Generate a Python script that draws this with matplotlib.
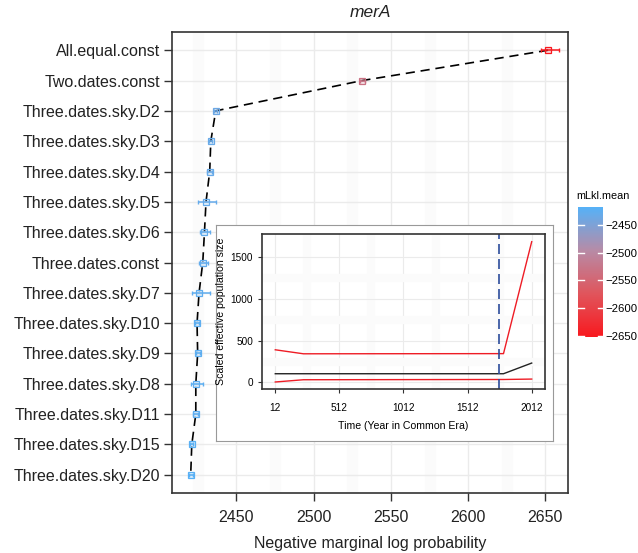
import numpy as np
import matplotlib
matplotlib.use("Agg")
import matplotlib.pyplot as plt
from matplotlib.colors import LinearSegmentedColormap, Normalize
from matplotlib.cm import ScalarMappable

plt.rcParams['font.family'] = ['Liberation Sans', 'DejaVu Sans']

# main panel data
models = ['All.equal.const', 'Two.dates.const', 'Three.dates.sky.D2',
          'Three.dates.sky.D3', 'Three.dates.sky.D4', 'Three.dates.sky.D5',
          'Three.dates.sky.D6', 'Three.dates.const', 'Three.dates.sky.D7',
          'Three.dates.sky.D10', 'Three.dates.sky.D9', 'Three.dates.sky.D8',
          'Three.dates.sky.D11', 'Three.dates.sky.D15', 'Three.dates.sky.D20']
neg_mlkl = [2651.7, 2531.5, 2436.7, 2433.5, 2432.8, 2430.4, 2429.4, 2428.3,
            2425.9, 2424.6, 2425.0, 2423.8, 2423.8, 2421.2, 2420.5]
err_low = [4.5, 1.5, 1.0, 1.0, 1.5, 5.4, 2.9, 2.4, 4.3, 1.0, 1.0, 3.1, 1.5, 1.0, 1.0]
err_high = [6.9, 1.5, 1.0, 1.0, 1.5, 6.5, 3.6, 3.2, 7.1, 1.0, 1.5, 4.7, 1.5, 1.0, 1.5]

# inset skyline data
years = [12, 232, 1792, 2012]
ne_median = [104, 104, 104, 232]
ne_upper = [391, 343, 345, 1687]
ne_lower = [5, 32, 35, 40]
split_year = 1760

cmap = LinearSegmentedColormap.from_list(
    'mlkl', ['#f8191f', '#e0555c', '#b78ba6', '#56b1f7'])
norm = Normalize(vmin=-2652, vmax=-2418)

fig = plt.figure(figsize=(6.38, 5.53), dpi=100)
W, H = 638, 553


def box(l, t, r, b):
    return [l / W, 1 - b / H, (r - l) / W, (b - t) / H]


ax = fig.add_axes(box(172, 32, 568, 493))
ypos = np.arange(len(models))
cols = [cmap(norm(-v)) for v in neg_mlkl]

ax.plot(neg_mlkl, ypos, color='black', ls=(0, (5.5, 3.5)), lw=1.2, zorder=3)
for i in range(len(models)):
    ax.errorbar(neg_mlkl[i], ypos[i], xerr=[[err_low[i]], [err_high[i]]],
                fmt='none', ecolor=cols[i], elinewidth=1.1, capsize=1.5, zorder=4)
    ax.plot(neg_mlkl[i], ypos[i], marker='s', ms=4.5, mfc=(*cols[i][:3], 0.2),
            mec=cols[i], mew=0.9, zorder=5)

ax.set_xlim(2408.4, 2664.6)
ax.set_ylim(len(models) - 0.4, -0.6)
ax.set_yticks(ypos)
ax.set_yticklabels(models, fontsize=11.5, color='#222222')
ax.tick_params(length=5.5, width=1, color='#333333')
ax.tick_params(axis='y', pad=3)
ax.set_xticks([2450, 2500, 2550, 2600, 2650])
ax.tick_params(axis='x', labelsize=11.5, pad=7, labelcolor='#222222')
ax.set_xticks([2425, 2475, 2525, 2575, 2625], minor=True)
ax.tick_params(which='minor', length=0)
ax.grid(True, which='major', color='#ebebeb', lw=1)
ax.grid(True, which='minor', axis='x', color='#fbfbfb', lw=8)
ax.set_axisbelow(True)
for s in ax.spines.values():
    s.set_color('#333333')
    s.set_linewidth(1.2)
ax.set_xlabel('Negative marginal log probability', fontsize=11.5, labelpad=8,
              color='#222222')
ax.set_title('merA', fontsize=12.5, style='italic', pad=11, color='#222222')

# colorbar
cax = fig.add_axes(box(578, 207, 603, 337))
cb = fig.colorbar(ScalarMappable(norm=norm, cmap=cmap), cax=cax)
cb.set_ticks([-2450, -2500, -2550, -2600, -2650])
cb.outline.set_visible(False)
cax.tick_params(labelsize=8.2, length=0, pad=1.5)
for t in [-2450, -2500, -2550, -2600, -2650]:
    cax.plot([0, 0.22], [t, t], color='white', lw=1)
    cax.plot([0.78, 1], [t, t], color='white', lw=1)
cax.set_xlim(0, 1)
fig.text(576 / W, 1 - 196 / H, 'mLkl.mean', fontsize=7.8, va='center')

# inset frame
fr = fig.add_axes(box(216, 225, 553, 441))
fr.set_facecolor('white')
fr.set_xticks([])
fr.set_yticks([])
for s in fr.spines.values():
    s.set_color('#999999')
    s.set_linewidth(0.8)

ins = fig.add_axes(box(262, 234, 545, 389))
ins.plot(years, ne_upper, color='#ee1c25', lw=1)
ins.plot(years, ne_lower, color='#ee1c25', lw=1)
ins.plot(years, ne_median, color='#222222', lw=1)
ins.axvline(split_year, color='#2c4c9c', lw=1.2, ls=(0, (6, 3)))
ins.set_xlim(-91.6, 2115.7)
ins.set_ylim(-79, 1779)
ins.set_xticks([12, 512, 1012, 1512, 2012])
ins.set_yticks([0, 500, 1000, 1500])
ins.set_xticks([262, 762, 1262, 1762], minor=True)
ins.set_yticks([250, 750, 1250], minor=True)
ins.tick_params(which='minor', length=0)
ins.tick_params(labelsize=7.2, length=3, color='#333333')
ins.tick_params(axis='x', pad=7)
ins.grid(True, which='major', color='#ebebeb', lw=0.8)
ins.grid(True, which='minor', color='#fbfbfb', lw=6)
ins.set_axisbelow(True)
for s in ins.spines.values():
    s.set_color('#333333')
    s.set_linewidth(1.2)
ins.set_xlabel('Time (Year in Common Era)', fontsize=7.6, labelpad=6)
ins.set_ylabel('Scaled effective population size', fontsize=7.6, labelpad=3)

fig.savefig('out.png', dpi=100)
